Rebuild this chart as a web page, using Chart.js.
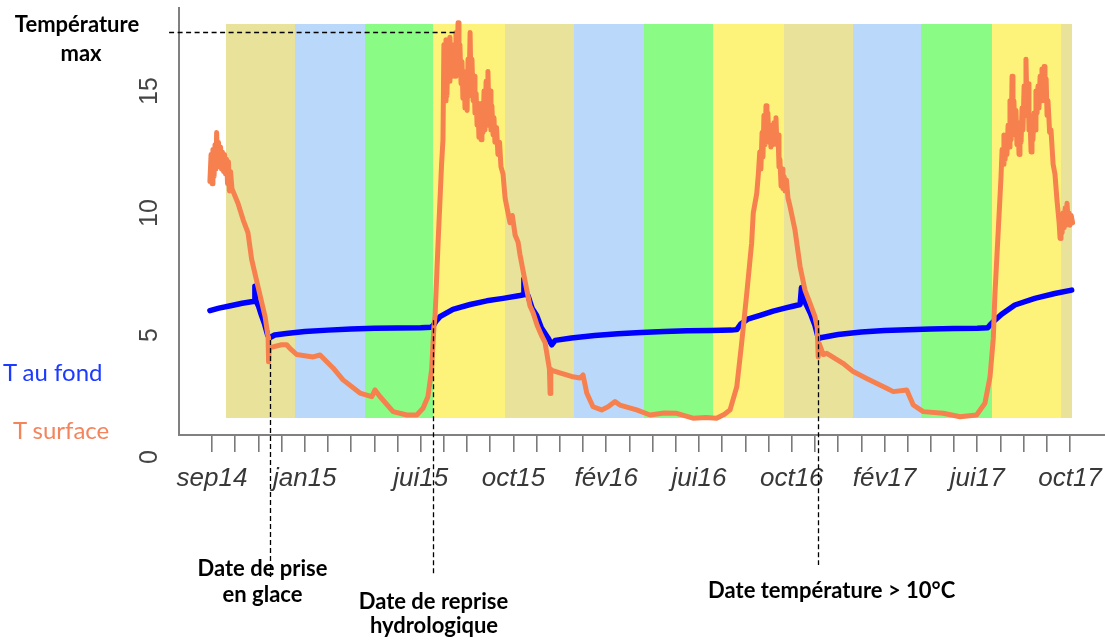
<!DOCTYPE html>
<html>
<head>
<meta charset="utf-8">
<script src="https://cdn.jsdelivr.net/npm/chart.js@4.4.1/dist/chart.umd.min.js"></script>
<style>
html,body{margin:0;padding:0;background:#fff;}
#wrap{position:relative;width:1105px;height:642px;overflow:hidden;background:#fff;}
#c{position:absolute;left:0;top:0;}
.t{position:absolute;white-space:nowrap;font-family:Lato,"Open Sans",sans-serif;line-height:1;}
</style>
</head>
<body>
<div id="wrap"><canvas id="c" width="1105" height="642"></canvas></div>
<script>
// ---------- DATA (x = months since 1 Sept 2014) ----------
const monthTickLabels = ['sep14','','','','jan15','','','','','jui15','','','','oct15','','','','fév16','','','','jui16','','','','oct16','','','','fév17','','','','jui17','','','','oct17'];
const yTickValues = [0, 5, 10, 15];

// seasons (background bands)
const seasonStart = [0.60, 3.59, 6.58, 9.54, 12.63, 15.62, 18.62, 21.59, 24.67, 27.65, 30.57, 33.63, 36.62];
const seasonEnd   = [3.59, 6.58, 9.54, 12.63, 15.62, 18.62, 21.59, 24.67, 27.65, 30.57, 33.63, 36.62, 37.07];
const seasonName  = ['automne','hiver','printemps','été','automne','hiver','printemps','été','automne','hiver','printemps','été','automne'];
const seasonTempLow = 1.585;
const seasonTempHigh = 17.73;

// T surface
const surfMonth = [
  -0.09,-0.04,0.00,0.04,0.09,0.13,0.17,0.20,0.24,0.28,0.32,0.37,0.41,0.45,0.50,0.54,0.58,0.63,0.67,0.71,0.75,0.80,0.86,
  1.12,1.35,1.55,1.71,1.98,2.29,2.42,2.44,2.47,2.59,3.00,3.22,3.36,3.65,4.00,4.36,4.66,5.22,5.65,6.38,6.89,7.03,7.25,7.81,8.40,8.83,9.10,9.31,9.47,9.57,9.62,9.75,9.90,
  9.96,10.00,10.05,10.09,10.13,10.18,10.22,10.26,10.31,10.35,10.39,10.44,10.48,10.52,10.57,10.61,10.65,10.69,10.74,10.78,10.82,10.87,10.91,10.95,11.00,11.04,11.08,11.13,11.17,11.21,11.26,11.30,11.34,11.39,11.43,11.47,11.51,11.56,11.60,11.64,11.69,11.73,11.77,11.82,11.86,11.90,11.95,11.99,12.03,12.07,12.12,12.16,12.20,12.27,12.33,12.40,12.46,12.55,12.64,
  12.85,12.95,13.07,13.20,13.28,13.50,13.71,13.85,14.02,14.20,14.36,14.43,14.55,14.58,14.61,14.66,15.00,15.50,15.87,16.00,16.16,16.43,16.80,17.08,17.38,17.59,18.31,18.89,19.50,20.04,20.74,21.30,21.76,22.10,22.34,22.63,22.84,23.06,23.27,23.34,23.49,
  23.56,23.62,23.67,23.72,23.76,23.80,23.85,23.89,23.93,23.97,24.02,24.06,24.10,24.15,24.19,24.23,24.28,24.32,24.36,24.41,24.45,24.49,24.54,24.58,24.62,24.67,24.71,24.77,24.84,24.92,
  25.14,25.36,25.57,25.79,26.00,26.10,26.14,26.18,26.36,26.51,27.21,27.65,28.23,29.09,29.38,29.96,30.24,30.67,31.53,32.26,32.97,33.33,33.55,33.69,33.76,33.91,
  34.02,34.07,34.11,34.15,34.20,34.24,34.28,34.33,34.37,34.41,34.46,34.50,34.54,34.58,34.63,34.67,34.71,34.76,34.80,34.84,34.89,34.93,34.97,35.02,35.06,35.10,35.15,35.19,35.23,35.27,35.32,35.36,35.40,35.45,35.49,35.53,35.58,35.62,35.66,35.71,35.75,35.79,35.84,35.88,35.92,35.97,36.01,36.05,36.12,36.18,36.27,36.35,36.44,36.53,36.57,36.61,36.66,36.70,36.75,36.79,36.83,36.87,36.92,36.96,37.00,37.05,37.11
];
const surfTemp = [
  11.3,12.4,11.2,12.6,11.5,12.8,11.8,13.3,12.0,12.9,11.9,12.7,11.8,12.5,11.7,12.4,11.6,12.2,11.2,12.1,10.9,11.7,11.0,
  10.4,9.7,9.2,8.1,7.0,5.75,4.9,3.9,4.5,4.5,4.6,4.6,4.45,4.2,4.15,4.1,4.18,3.65,3.16,2.62,2.47,2.75,2.47,1.86,1.72,1.72,2.0,2.47,3.57,5.34,5.8,8.8,12.0,
  13.0,16.9,14.6,17.1,14.8,16.8,15.4,17.2,15.8,16.6,15.6,16.9,15.6,17.4,15.8,17.8,15.7,16.9,15.3,16.2,14.7,15.8,14.3,15.6,14.2,16.3,14.8,17.4,15.0,16.3,14.6,15.6,14.1,14.9,13.6,14.5,13.1,14.3,13.0,14.5,13.3,15.0,13.4,15.4,13.6,15.8,13.7,15.0,13.4,14.4,13.2,13.9,12.9,13.5,12.4,12.9,11.9,11.6,10.6,
  9.6,9.9,9.1,8.8,8.3,7.2,6.2,5.9,5.4,5.0,4.7,4.3,3.6,2.6,3.6,3.55,3.45,3.3,3.24,3.36,2.62,2.06,1.93,2.06,2.27,2.13,1.93,1.72,1.80,1.79,1.59,1.62,1.59,1.75,1.93,2.88,4.67,6.7,8.76,10.0,10.8,
  11.6,12.5,11.8,13.3,12.3,14.0,12.8,14.4,13.0,14.1,12.9,13.6,12.7,13.6,12.8,13.7,12.9,13.9,12.8,13.2,11.9,12.2,11.1,11.8,11.0,11.5,10.9,11.35,10.6,10.3,
  9.3,7.8,6.84,6.3,5.75,5.3,4.1,4.66,4.2,4.25,3.84,3.5,3.22,2.82,2.68,2.75,2.13,1.86,1.79,1.65,1.72,2.2,3.29,4.86,6.64,9.37,
  11.4,12.6,12.0,13.2,12.2,13.0,12.4,13.6,12.7,14.6,13.0,15.6,13.3,14.6,13.2,14.2,12.8,13.6,12.4,13.7,12.9,14.3,13.4,15.2,14.0,16.3,14.2,15.3,13.4,14.0,12.5,13.6,13.0,14.1,13.4,15.0,14.1,15.2,14.3,15.6,14.6,15.9,14.8,16.0,14.6,15.5,14.0,14.6,13.3,13.4,12.0,11.6,10.5,9.6,8.96,9.7,9.2,10.0,9.4,10.2,9.5,10.4,9.6,10.0,9.5,9.9,9.6
];

// T au fond
const fondMonth = [-0.09,0.30,0.80,1.30,1.83,1.85,1.90,2.00,2.10,2.25,2.40,2.48,2.70,3.20,4.00,5.00,6.00,7.00,8.00,9.00,9.45,9.55,9.65,9.83,10.39,11.13,11.85,12.55,13.28,13.43,13.45,13.50,13.63,13.80,14.00,14.20,14.49,14.65,14.80,15.50,16.50,17.50,18.50,19.50,20.50,21.50,22.40,22.63,22.80,23.10,23.63,24.20,24.70,25.04,25.36,25.42,25.50,25.60,25.80,26.00,26.15,26.30,27.00,28.00,29.00,30.00,31.00,32.00,33.00,33.45,33.55,33.70,34.05,34.62,35.48,36.34,37.07];
const fondTemp = [6.0,6.1,6.2,6.3,6.38,7.0,6.4,6.2,5.9,5.5,5.0,4.88,5.0,5.06,5.14,5.2,5.25,5.28,5.29,5.3,5.32,5.4,5.55,5.75,6.05,6.25,6.4,6.5,6.62,6.65,7.3,6.8,6.6,6.1,5.8,5.3,4.88,4.6,4.78,4.88,4.98,5.05,5.1,5.14,5.17,5.18,5.2,5.22,5.45,5.65,5.8,5.98,6.1,6.18,6.25,6.95,6.5,6.3,5.9,5.4,4.85,4.9,5.02,5.12,5.18,5.22,5.25,5.27,5.28,5.3,5.41,5.55,5.85,6.23,6.5,6.7,6.84];

// annotations (x in months, y in °C)
const maxLineTemp = 17.43;
const maxLineFrom = -1.85;
const maxLineTo = 10.61;
const markerMonth = [2.50, 9.53, 26.14];
const markerTopTemp = [4.8, 5.6, 5.6];

// ---------- STYLE / LAYOUT ----------
const seasonColors = {'automne':'#E8E29A','hiver':'#BAD9FA','printemps':'#8AFC86','été':'#FEF37A'};
const markerBottomPx = [580, 575, 565];
const plotLeft = 179, plotTop = 8, plotBottom = 435, W = 1105, H = 642;
const xTick0Px = 212, monthPx = 23.19, yZeroPx = 457, degPx = 24.4;

const xMin = (plotLeft - xTick0Px) / monthPx;
const xMax = (W - xTick0Px) / monthPx;
const yMin = (yZeroPx - plotBottom) / degPx;
const yMax = (yZeroPx - plotTop) / degPx;

const bandsPlugin = {
  id: 'bands',
  beforeDatasetsDraw(chart) {
    const {ctx, scales: {x, y}} = chart;
    ctx.save();
    const yT = Math.round(y.getPixelForValue(seasonTempHigh));
    const yB = Math.round(y.getPixelForValue(seasonTempLow));
    seasonStart.forEach((s, i) => {
      const x1 = Math.round(x.getPixelForValue(s));
      const x2 = Math.round(x.getPixelForValue(seasonEnd[i]));
      ctx.fillStyle = seasonColors[seasonName[i]];
      ctx.fillRect(x1, yT, x2 - x1, yB - yT);
    });
    ctx.restore();
  },
  afterDraw(chart) {
    const {ctx, scales: {x, y}} = chart;
    ctx.save();
    ctx.strokeStyle = '#000';
    ctx.lineWidth = 1.3;
    ctx.setLineDash([5, 3.5]);
    const hy = Math.round(y.getPixelForValue(maxLineTemp)) + 0.5;
    ctx.beginPath();
    ctx.moveTo(x.getPixelForValue(maxLineFrom), hy);
    ctx.lineTo(x.getPixelForValue(maxLineTo), hy);
    ctx.stroke();
    ctx.setLineDash([5, 3]);
    markerMonth.forEach((m, i) => {
      const px = Math.round(x.getPixelForValue(m)) + 0.5;
      ctx.beginPath();
      ctx.moveTo(px, y.getPixelForValue(markerTopTemp[i]));
      ctx.lineTo(px, markerBottomPx[i]);
      ctx.stroke();
    });
    ctx.restore();
  }
};

new Chart(document.getElementById('c'), {
  type: 'line',
  data: {
    datasets: [
      {
        label: 'T surface',
        data: surfMonth.map((m, i) => ({x: m, y: surfTemp[i]})),
        borderColor: '#F7804F',
        borderWidth: 5,
        pointRadius: 0,
        tension: 0,
        borderJoinStyle: 'round',
        borderCapStyle: 'round',
        fill: false
      },
      {
        label: 'T au fond',
        data: fondMonth.map((m, i) => ({x: m, y: fondTemp[i]})),
        borderColor: '#0000FF',
        borderWidth: 5.5,
        pointRadius: 0,
        tension: 0,
        borderJoinStyle: 'round',
        borderCapStyle: 'round',
        fill: false
      }
    ]
  },
  options: {
    responsive: false,
    animation: false,
    devicePixelRatio: 1,
    layout: {padding: {top: plotTop, left: 0, right: 0, bottom: 0}},
    plugins: {legend: {display: false}, tooltip: {enabled: false}},
    scales: {
      x: {
        type: 'linear',
        bounds: 'data',
        min: xMin,
        max: xMax,
        grid: {display: true, drawOnChartArea: false, drawTicks: true, tickLength: 17, color: '#7a7a7a', lineWidth: 1.6},
        border: {display: true, color: '#808080', width: 2},
        ticks: {
          autoSkip: false, maxRotation: 0, minRotation: 0, padding: 11,
          color: '#383838',
          font: {family: '"Liberation Sans", Arial, sans-serif', size: 26, style: 'italic'},
          callback: (v, i) => monthTickLabels[i]
        },
        afterBuildTicks: s => { s.ticks = monthTickLabels.map((_, i) => ({value: i})); },
        afterFit: s => { s.height = H - plotBottom; s.paddingLeft = 0; s.paddingRight = 0; s.paddingTop = 0; s.paddingBottom = 0; }
      },
      y: {
        type: 'linear',
        bounds: 'data',
        min: yMin,
        max: yMax,
        grid: {display: false, drawTicks: false},
        border: {display: true, color: '#808080', width: 2},
        ticks: {
          padding: 15, crossAlign: 'center', minRotation: 90, maxRotation: 90,
          color: '#444',
          font: {family: '"Liberation Sans", Arial, sans-serif', size: 25},
          callback: v => String(v)
        },
        afterBuildTicks: s => { s.ticks = yTickValues.map(v => ({value: v})); },
        afterFit: s => { s.width = plotLeft; s.paddingLeft = 0; s.paddingRight = 0; s.paddingTop = 0; s.paddingBottom = 0; }
      }
    }
  },
  plugins: [bandsPlugin]
});

// ---------- real-text annotations ----------
const wrap = document.getElementById('wrap');
const texts = [
  {t: 'Température', cx: 77, base: 33, size: 22, w: 700, c: '#000'},
  {t: 'max', cx: 81, base: 62, size: 22, w: 700, c: '#000'},
  {t: 'Date de prise', cx: 262.5, base: 577, size: 22, w: 700, c: '#000'},
  {t: 'en glace', cx: 262.5, base: 603, size: 22, w: 700, c: '#000'},
  {t: 'Date de reprise', cx: 433.5, base: 610, size: 22, w: 700, c: '#000'},
  {t: 'hydrologique', cx: 434, base: 634, size: 22, w: 700, c: '#000'},
  {t: 'Date température > 10°C', cx: 831.7, base: 599, size: 22, w: 700, c: '#000'},
  {t: 'T au fond', left: 3, base: 381.7, size: 24, w: 400, c: '#1C3BFF'},
  {t: 'T surface', left: 13, base: 439, size: 24, w: 400, c: '#F4845C'}
];
texts.forEach(o => {
  const d = document.createElement('div');
  d.className = 't';
  d.textContent = o.t;
  d.style.fontSize = o.size + 'px';
  d.style.fontWeight = o.w;
  d.style.color = o.c;
  d.style.top = (o.base - 0.887 * o.size) + 'px';
  if (o.cx !== undefined) { d.style.left = o.cx + 'px'; d.style.transform = 'translateX(-50%)'; }
  else { d.style.left = o.left + 'px'; }
  wrap.appendChild(d);
});
</script>
</body>
</html>
